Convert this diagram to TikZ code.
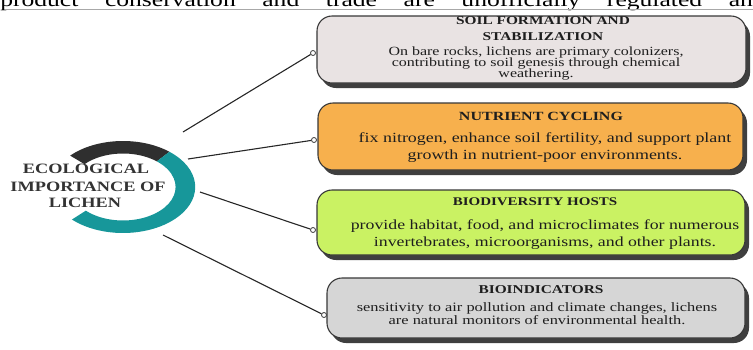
\documentclass[tikz,border=0pt]{standalone}
\usepackage{fontspec}
\setmainfont{Liberation Serif}
\usetikzlibrary{shadows}
\definecolor{ringdark}{HTML}{2F2F2F}
\definecolor{ringteal}{HTML}{17979A}
\definecolor{boxline}{HTML}{383838}
\definecolor{shadowc}{HTML}{2A2A2A}
\definecolor{soilfill}{HTML}{E9E3E3}
\definecolor{nutrfill}{HTML}{F7B04D}
\definecolor{biofill}{HTML}{CAF263}
\definecolor{indfill}{HTML}{D6D6D6}
\definecolor{textc}{HTML}{1E1E1E}
\definecolor{rulec}{HTML}{A8A8A8}
\begin{document}
\begin{tikzpicture}[x=1pt,y=-1pt,
  card/.style={draw=boxline, line width=1.1pt, rounded corners=15pt,
    drop shadow={shadow xshift=4pt, shadow yshift=-5pt, opacity=0.9, fill=shadowc},
    inner sep=0pt},
  pin/.style={circle, draw=boxline, fill=white, line width=0.8pt,
    minimum size=5pt, inner sep=0pt},
  link/.style={draw=black!85, line width=1.1pt},
  wide/.style={xscale=1.28, inner sep=0pt, anchor=base, text=textc},
  head/.style={wide, font=\bfseries\fontsize{12}{14}\selectfont},
  body/.style={wide, font=\fontsize{12.5}{14}\selectfont},
  ringtext/.style={wide, text=black!80, font=\bfseries\fontsize{14.3}{17}\selectfont}]
\useasboundingbox (0,0) rectangle (753,349);
\clip (0,0) rectangle (753,349);

% running text of the page above the figure
\node[wide, anchor=base west, text=black, font=\fontsize{20}{22}\selectfont] (toptext) at (0,6)
  {\makebox[588pt][s]{product conservation and trade are unofficially regulated an}};
\draw[rulec, line width=0.7pt] (5,9.5) -- (753,9.5);

% central ring
\begin{scope}[shift={(123,187)}, xscale=1.57, yscale=-1]
  \fill[ringdark] (137:46) arc[start angle=137, end angle=50, radius=46]
    -- (50:33.5) arc[start angle=50, end angle=137, radius=33.5] -- cycle;
  \fill[ringteal] (50:46) arc[start angle=50, end angle=-135, radius=46]
    -- (-135:33.5) arc[start angle=-135, end angle=50, radius=33.5] -- cycle;
\end{scope}
\node[ringtext] (r1) at (86,173) {ECOLOGICAL};
\node[ringtext] (r2) at (88,191) {IMPORTANCE OF};
\node[ringtext] (r3) at (85,207) {LICHEN};

% cards
\node[card, fill=soilfill, minimum width=429pt, minimum height=67pt] (b1) at (531.5,49.5) {};
\node[card, fill=nutrfill, minimum width=425pt, minimum height=67pt] (b2) at (530.5,136.5) {};
\node[card, fill=biofill, minimum width=428pt, minimum height=65pt] (b3) at (531,222.5) {};
\node[card, fill=indfill, minimum width=418pt, minimum height=60pt] (b4) at (536,308) {};

% card texts
\node[head] (h1a) at (543,24) {SOIL FORMATION AND};
\node[head] (h1b) at (543,40) {STABILIZATION};
\node[body] (t1a) at (536,55) {On bare rocks, lichens are primary colonizers,};
\node[body] (t1b) at (536,66) {contributing to soil genesis through chemical};
\node[body] (t1c) at (536,77.5) {weathering.};

\node[head, font=\bfseries\fontsize{12.5}{14}\selectfont] (h2) at (541,120) {NUTRIENT CYCLING};
\node[body, font=\fontsize{14}{15}\selectfont] (t2a) at (545,142) {fix nitrogen, enhance soil fertility, and support plant};
\node[body, font=\fontsize{14}{15}\selectfont] (t2b) at (545,159) {growth in nutrient-poor environments.};

\node[head, font=\bfseries\fontsize{11.7}{14}\selectfont] (h3) at (535,205) {BIODIVERSITY HOSTS};
\node[body, font=\fontsize{13.9}{15}\selectfont] (t3a) at (545,229) {provide habitat, food, and microclimates for numerous};
\node[body, font=\fontsize{13.9}{15}\selectfont] (t3b) at (545,246) {invertebrates, microorganisms, and other plants.};

\node[head] (h4) at (541,293) {BIOINDICATORS};
\node[body, font=\fontsize{12.8}{14}\selectfont] (t4a) at (537,311) {sensitivity to air pollution and climate changes, lichens};
\node[body, font=\fontsize{12.8}{14}\selectfont] (t4b) at (537,324) {are natural monitors of environmental health.};

% connector ends on the ring side
\coordinate (s1) at (183,132);
\coordinate (s2) at (188,159);
\coordinate (s3) at (200,192);
\coordinate (s4) at (163,235);

% pins on the cards
\node[pin] (c1) at (313,53) {};
\node[pin] (c2) at (314,140) {};
\node[pin] (c3) at (313,230) {};
\node[pin] (c4) at (324,315) {};

\draw[link] (s1) -- (c1);
\draw[link] (s2) -- (c2);
\draw[link] (s3) -- (c3);
\draw[link] (s4) -- (c4);
\end{tikzpicture}
\end{document}
